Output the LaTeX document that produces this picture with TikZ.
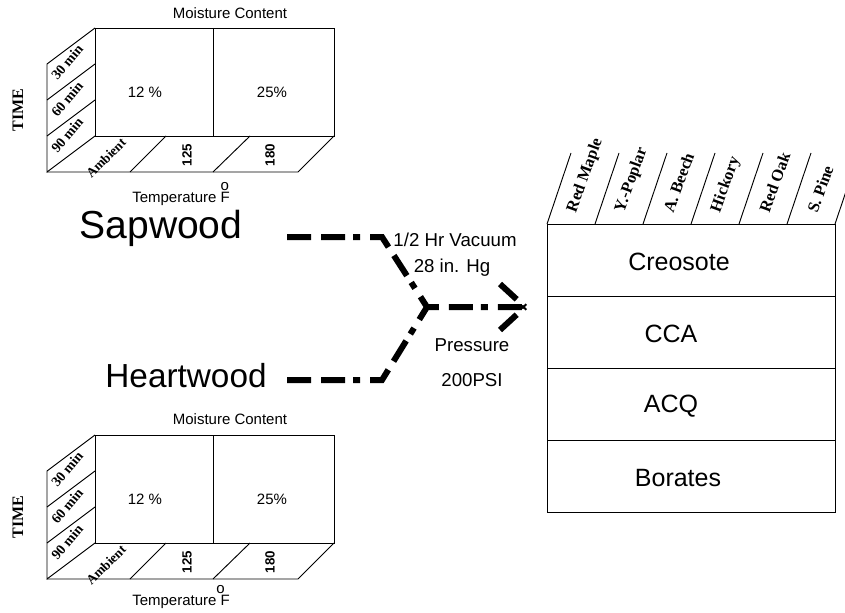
\documentclass[tikz,border=0pt]{standalone}
\usepackage{fontspec}
\setmainfont{Liberation Sans}
\newfontfamily\tnr{Liberation Serif}
\usepackage{tikz}
\usetikzlibrary{positioning}

\tikzset{
  grid/.style={line width=0.7pt},
  flow/.style={line width=4.5pt, dash pattern=on 18pt off 7.5pt on 18pt off 6pt on 5.25pt off 7.5pt},
  chev/.style={line width=4.5pt, dash pattern=on 17pt off 7pt on 6pt off 10pt},
  mctxt/.style={font=\fontsize{11.25}{13}\selectfont},
  steptxt/.style={font=\fontsize{14}{16}\selectfont},
  chemtxt/.style={font=\fontsize{18.75}{21}\selectfont},
  woodtxt/.style={font=\tnr\bfseries\fontsize{12.3}{14}\selectfont, rotate=70, anchor=west, inner sep=0pt},
  timetxt/.style={font=\tnr\bfseries\fontsize{12}{14}\selectfont, rotate=90},
  mintxt/.style={font=\tnr\bfseries\fontsize{10.5}{12}\selectfont, rotate=50, inner sep=0pt},
  ambtxt/.style={font=\tnr\bfseries\fontsize{10}{12}\selectfont, rotate=45, inner sep=0pt},
  degtxt/.style={font=\bfseries\fontsize{10}{12}\selectfont, rotate=90, inner sep=0pt},
}

\begin{document}
\begin{tikzpicture}[x=0.75pt, y=-0.75pt]
  \useasboundingbox (0,0) rectangle (845,613);
  % upper chart (sapwood)
  \begin{scope}[shift={(0,0)}]
    \draw[grid] (95,28) rectangle (334,136);
    \draw[grid] (213,28) -- (213,136);
    \draw[grid] (95,28) -- (47,64) -- (47,172) -- (95,136);
    \draw[grid] (95,64) -- (47,100) (95,100) -- (47,136);
    \draw[grid] (47,172) -- (298,172) -- (334,136);
    \draw[grid] (166,136) -- (130,172) (250,136) -- (213,172);
    \node[mctxt] (tmc) at (230,13) {Moisture Content};
    \node[mctxt] (tlow) at (145,92) {12 \%};
    \node[mctxt] (thigh) at (272,92) {25\%};
    \node[timetxt] (ttime) at (18,110) {TIME};
    \node[mintxt] (tm30) at (67,62) {30 min};
    \node[mintxt] (tm60) at (67,99) {60 min};
    \node[mintxt] (tm90) at (67,135) {90 min};
    \node[ambtxt] (tamb) at (106,158) {Ambient};
    \node[degtxt] (t125) at (187,155) {125};
    \node[degtxt] (t180) at (270,155) {180};
    \node[mctxt, anchor=base west, inner sep=0pt] (ttemp) at (132,202)
      {Temperature \rlap{\raisebox{0.8em}{o}}F};
  \end{scope}
  % lower chart (heartwood)
  \begin{scope}[shift={(0,407)}]
    \draw[grid] (95,28) rectangle (334,136);
    \draw[grid] (213,28) -- (213,136);
    \draw[grid] (95,28) -- (47,64) -- (47,172) -- (95,136);
    \draw[grid] (95,64) -- (47,100) (95,100) -- (47,136);
    \draw[grid] (47,172) -- (298,172) -- (334,136);
    \draw[grid] (166,136) -- (130,172) (250,136) -- (213,172);
    \node[mctxt] (bmc) at (230,12) {Moisture Content};
    \node[mctxt] (blow) at (145,92) {12 \%};
    \node[mctxt] (bhigh) at (272,92) {25\%};
    \node[timetxt] (btime) at (18,110) {TIME};
    \node[mintxt] (bm30) at (67,62) {30 min};
    \node[mintxt] (bm60) at (67,99) {60 min};
    \node[mintxt] (bm90) at (67,135) {90 min};
    \node[ambtxt] (bamb) at (106,158) {Ambient};
    \node[degtxt] (b125) at (187,155) {125};
    \node[degtxt] (b180) at (270,155) {180};
    \node[mctxt, anchor=base west, inner sep=0pt] (btemp) at (132,198)
      {Temperature\rlap{\raisebox{0.8em}{o}}\ F};
  \end{scope}
  % process lines
  \node[font=\fontsize{29.3}{32}\selectfont, anchor=base, inner sep=0pt] (sap) at (161,238) {Sapwood};
  \node[font=\fontsize{25}{28}\selectfont, anchor=base, inner sep=0pt] (heart) at (186,387) {Heartwood};
  \coordinate (sapstart) at (287,237);
  \coordinate (sapbend) at (382,237);
  \coordinate (heartstart) at (287,380);
  \coordinate (heartbend) at (382,380);
  \coordinate (join) at (427,307);
  \coordinate (tip) at (525,307);
  \coordinate (chevup) at (500,284);
  \coordinate (chevdn) at (500,330);
  \draw[flow] (sapstart) -- (sapbend) -- (join) -- (tip);
  \draw[flow] (heartstart) -- (heartbend) -- (join);
  \draw[chev] (chevup) -- (tip);
  \draw[chev] (chevdn) -- (tip);
  \node[steptxt] (vac) at (455,240) {1/2 Hr Vacuum};
  \node[steptxt] (hg) at (452,268) {28 in. Hg};
  \node[steptxt] (pres) at (472,345) {Pressure};
  \node[steptxt] (psi) at (472,380) {200PSI};
  % treatment table
  \draw[grid] (547,224) rectangle (835,512);
  \foreach \y in {296,368,440}
    \draw[grid] (547,\y) -- (835,\y);
  \foreach \i in {0,...,6}
    \draw[grid] (547+48*\i,224) -- ++(24,-71);
  \foreach \wood [count=\i from 0] in {Red Maple, Y.-Poplar, A. Beech, Hickory, Red Oak, S. Pine}
    \node[woodtxt] (wood\i) at (572+48*\i,212) {\wood};
  \node[chemtxt] (creo) at (679,262) {Creosote};
  \node[chemtxt] (cca) at (671,334) {CCA};
  \node[chemtxt] (acq) at (671,406) {ACQ};
  \node[chemtxt] (bor) at (678,478) {Borates};
\end{tikzpicture}
\end{document}
